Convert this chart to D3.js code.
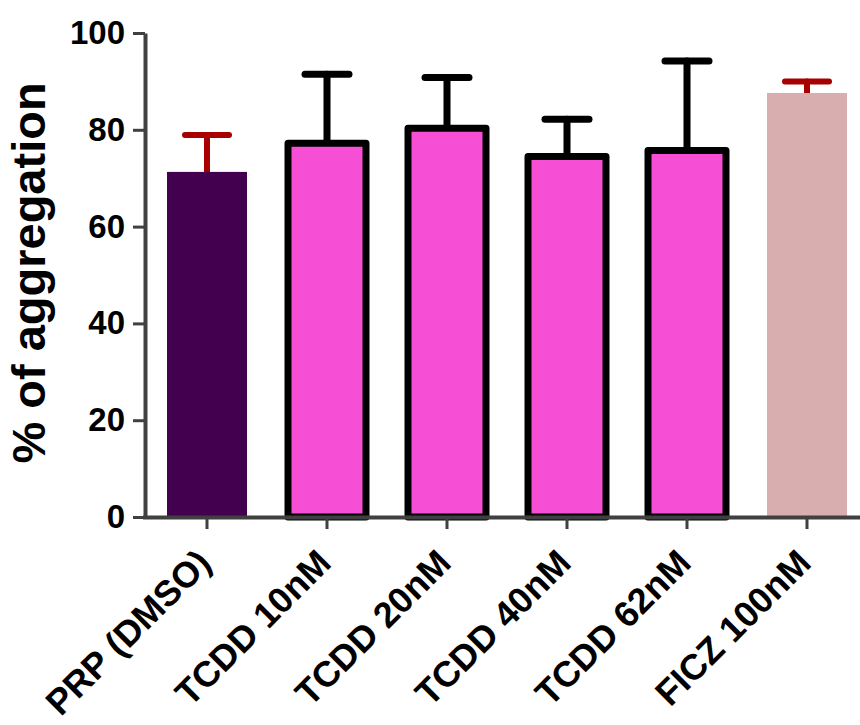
<!DOCTYPE html>
<html>
<head>
<meta charset="utf-8">
<script src="https://cdn.jsdelivr.net/npm/d3@7"></script>
<style>
  body { margin: 0; background: #fff; }
  text { font-family: "Liberation Sans", Arial, sans-serif; font-weight: bold; }
</style>
</head>
<body>
<div id="plot"></div>
<script>
var w = 860;
var h = 725;

var categories = ["PRP (DMSO)", "TCDD 10nM", "TCDD 20nM", "TCDD 40nM", "TCDD 62nM", "FICZ 100nM"];
var means = [71.3, 77.2, 80.3, 74.5, 75.7, 87.6];
var errors = [7.6, 14.3, 10.5, 7.7, 18.5, 2.4];
var yTicks = [0, 20, 40, 60, 80, 100];

var fills = ["#43004f", "#f64fd6", "#f64fd6", "#f64fd6", "#f64fd6", "#d8aeae"];
var outlined = [false, true, true, true, true, false];
var errColors = ["#a80000", "#000", "#000", "#000", "#000", "#a80000"];

var xScale = d3.scaleBand()
               .domain(categories)
               .range([147, 867])
               .paddingInner(1 / 3)
               .paddingOuter(1 / 6);

var yScale = d3.scaleLinear()
               .domain([0, 100])
               .range([517, 33]);

var svg = d3.select("#plot")
            .append("svg")
            .attr("width", w)
            .attr("height", h);

var data = categories.map(function(c, i) {
  return { cat: c, v: means[i], e: errors[i], fill: fills[i], line: outlined[i], ec: errColors[i] };
});

// error bars (behind bars)
var eb = svg.append("g");
data.forEach(function(d) {
  var cx = xScale(d.cat) + xScale.bandwidth() / 2;
  var g = eb.append("g")
            .attr("stroke", d.ec)
            .attr("stroke-width", d.line ? 7 : 6)
            .attr("stroke-linecap", "round");
  g.append("line")
   .attr("x1", cx).attr("x2", cx)
   .attr("y1", yScale(d.v)).attr("y2", yScale(d.v + d.e));
  g.append("line")
   .attr("x1", cx - 22).attr("x2", cx + 22)
   .attr("y1", yScale(d.v + d.e)).attr("y2", yScale(d.v + d.e));
});

// bars
svg.selectAll("rect.bar")
   .data(data)
   .enter()
   .append("rect")
   .attr("class", "bar")
   .attr("x", function(d) { return d.line ? xScale(d.cat) + 1 : xScale(d.cat); })
   .attr("y", function(d) { return yScale(d.v); })
   .attr("width", function(d) { return d.line ? xScale.bandwidth() - 2 : xScale.bandwidth(); })
   .attr("height", function(d) { return yScale(0) - yScale(d.v); })
   .attr("fill", function(d) { return d.fill; })
   .attr("stroke", function(d) { return d.line ? "#000" : "none"; })
   .attr("stroke-width", 7)
   .attr("stroke-linejoin", "round");

// y axis
var yAxis = d3.axisLeft(yScale)
              .tickValues(yTicks)
              .tickSize(12)
              .tickSizeOuter(0)
              .tickPadding(8);

var ya = svg.append("g")
            .attr("transform", "translate(145,0)")
            .call(yAxis);
ya.select(".domain").attr("stroke", "#404040").attr("stroke-width", 4);
ya.selectAll(".tick line").attr("stroke", "#404040").attr("stroke-width", 3);
ya.selectAll(".tick text")
  .attr("font-size", 33)
  .attr("fill", "#000")
  .style("font-weight", "bold");

// x axis
var xAxis = d3.axisBottom(xScale).tickSize(12).tickSizeOuter(0);
var xa = svg.append("g")
            .attr("transform", "translate(0,517)")
            .call(xAxis);
xa.select(".domain").attr("d", "M143,0.5H860").attr("stroke", "#404040").attr("stroke-width", 4);
xa.selectAll(".tick line").attr("stroke", "#404040").attr("stroke-width", 3);
xa.selectAll(".tick text")
  .attr("font-size", 36)
  .attr("fill", "#000")
  .attr("text-anchor", "end")
  .attr("dy", 0)
  .attr("transform", "translate(6,48) rotate(-45)")
  .attr("y", 0)
  .attr("x", 0);

// y label
svg.append("text")
   .attr("transform", "translate(45,273) rotate(-90)")
   .attr("text-anchor", "middle")
   .attr("font-size", 47)
   .attr("fill", "#000")
   .text("% of aggregation");
</script>
</body>
</html>
